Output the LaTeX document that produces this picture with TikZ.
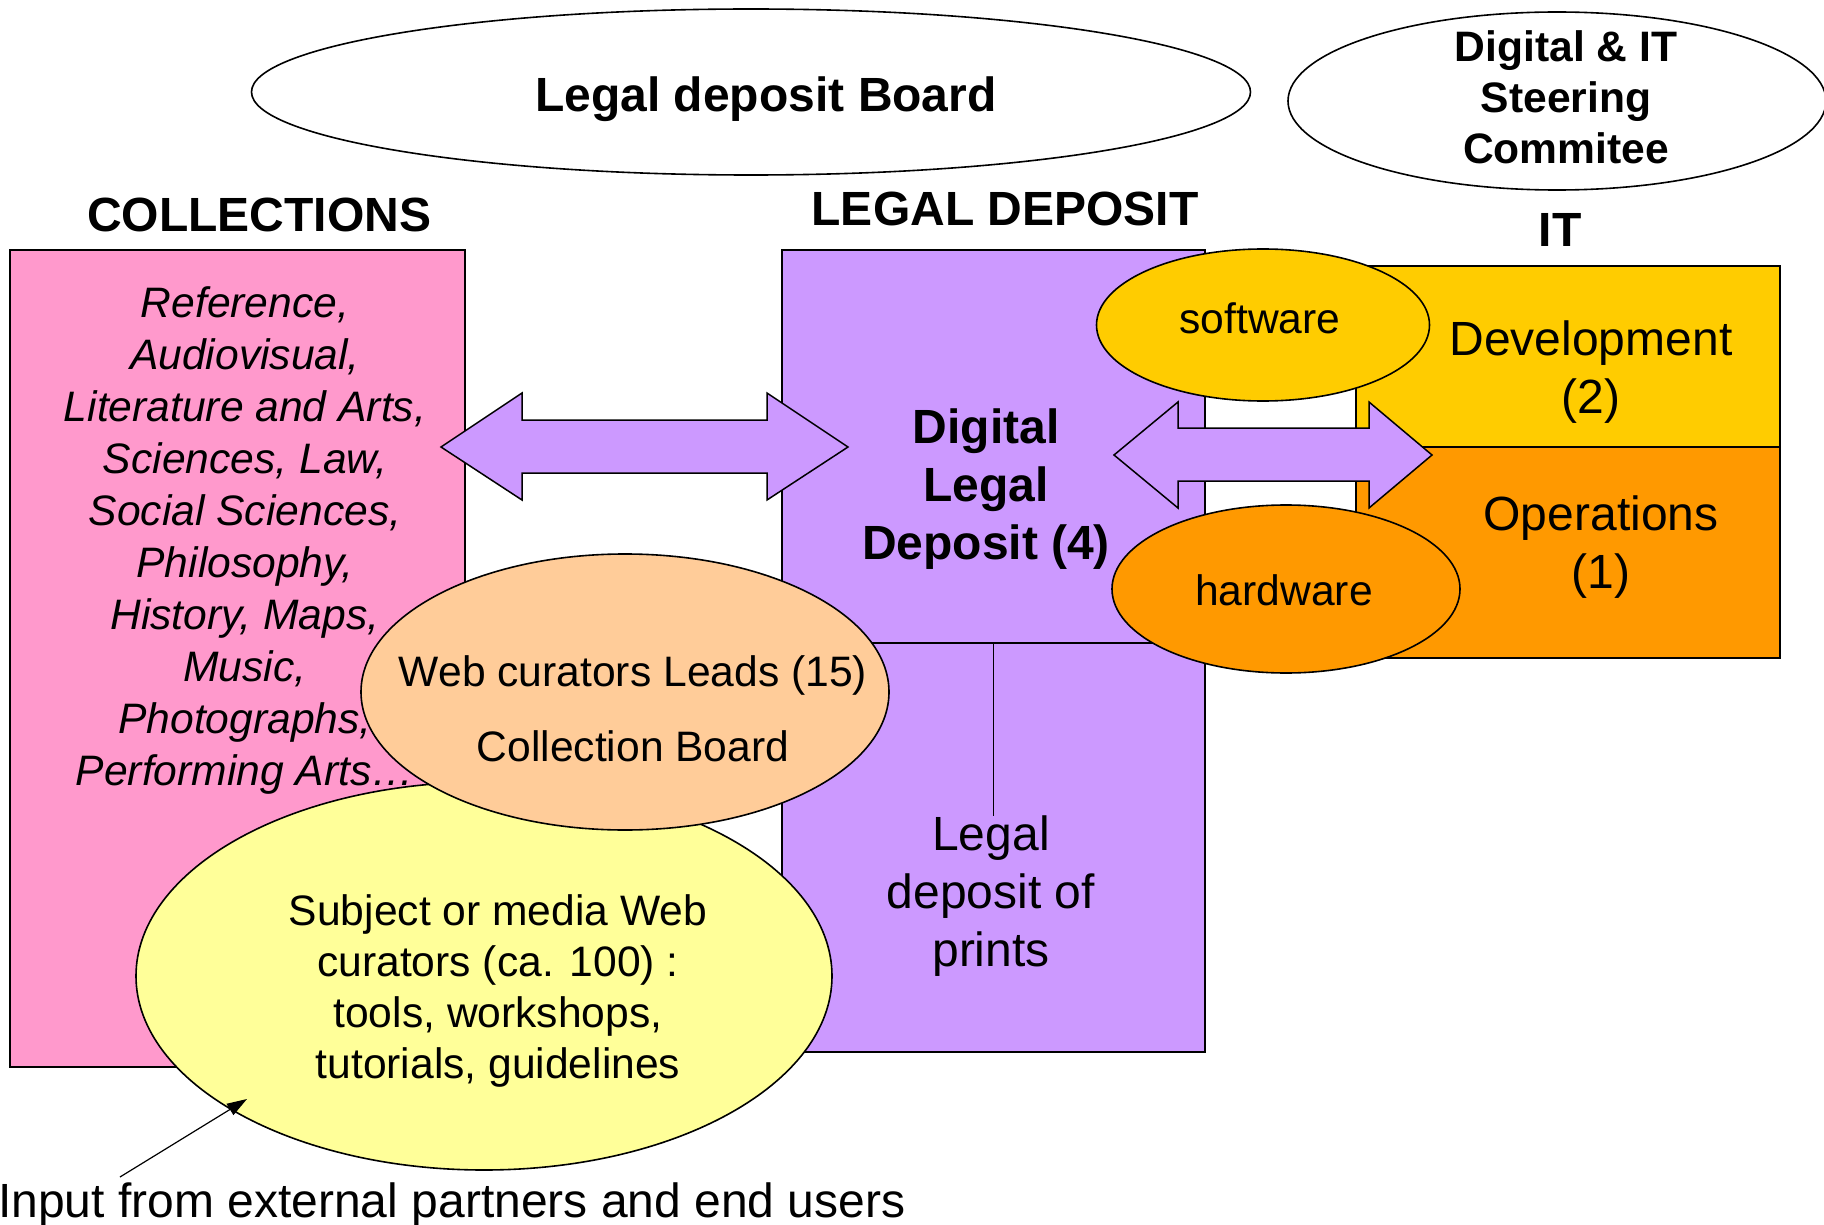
\documentclass[tikz,border=0pt]{standalone}
\usepackage{fontspec}
\setmainfont{Liberation Sans}
\usetikzlibrary{shapes.geometric,arrows.meta}

\definecolor{collpink}{HTML}{FF99CC}
\definecolor{ldpurple}{HTML}{CC99FF}
\definecolor{devyellow}{HTML}{FFCC00}
\definecolor{opsorange}{HTML}{FF9900}
\definecolor{leadpeach}{HTML}{FFCC99}
\definecolor{curyellow}{HTML}{FFFF99}

\tikzset{
  outline/.style={draw=black, line width=1.6pt, inner sep=0pt, outer sep=0pt},
  boxnode/.style={outline, rectangle},
  oval/.style={outline, ellipse},
  blockarrow/.style={draw=black, fill=ldpurple, line width=1.5pt, line join=miter},
  bigtxt/.style={align=center, inner sep=0pt, font=\fontsize{48}{57.6}\selectfont},
  midtxt/.style={align=center, inner sep=0pt, font=\fontsize{42.6}{51.2}\selectfont},
  headtxt/.style={bigtxt, font=\fontsize{48}{57.6}\selectfont\bfseries},
}

\begin{document}
\begin{tikzpicture}[x=1pt,y=-1pt]
\useasboundingbox (0,0) rectangle (1824,1225);

% governance ovals
\node[oval, minimum width=999pt, minimum height=166pt] (board) at (751,92) {};
\node[headtxt] (boardtxt) at (766,99) {Legal deposit Board};
\node[oval, minimum width=538pt, minimum height=178pt] (steer) at (1557,101) {};
\node[midtxt, font=\fontsize{42.6}{51.2}\selectfont\bfseries] (steertxt) at (1566,97) {Digital \& IT\\Steering\\Commitee};

% column headings
\node[headtxt] (hcoll) at (259,215) {COLLECTIONS};
\node[headtxt] (hld) at (1005,209) {LEGAL DEPOSIT};
\node[headtxt] (hit) at (1560,230) {IT};

% collections
\node[boxnode, fill=collpink, minimum width=455pt, minimum height=817pt] (coll) at (237.5,658.5) {};
\node[midtxt, font=\fontsize{42.6}{52}\selectfont\itshape] (colltxt) at (245,540)
  {Reference,\\Audiovisual,\\Literature and Arts,\\Sciences, Law,\\Social Sciences,\\Philosophy,\\History, Maps,\\Music,\\Photographs,\\Performing Arts\dots};

% legal deposit
\node[boxnode, fill=ldpurple, minimum width=423pt, minimum height=409pt] (prbox) at (993.5,847.5) {};
\node[boxnode, fill=ldpurple, minimum width=423pt, minimum height=393pt] (dld) at (993.5,446.5) {};
\node[headtxt, font=\fontsize{48}{57.6}\selectfont\bfseries] (dldtxt) at (986,489) {Digital\\Legal\\Deposit (4)};
\node[bigtxt] (prints) at (991,896) {Legal\\deposit of\\prints};
\draw[line width=1.6pt] (dld.south) -- (dld.south |- prints.north);

% exchange between collections and legal deposit
\filldraw[blockarrow] (441,447) -- (522,393) -- (522,420) -- (767,420) -- (767,393)
  -- (848,447) -- (767,500) -- (767,473) -- (522,473) -- (522,500) -- cycle;

% IT
\node[boxnode, fill=devyellow, minimum width=424pt, minimum height=181pt] (dev) at (1568,356.5) {};
\node[boxnode, fill=opsorange, minimum width=424pt, minimum height=211pt] (ops) at (1568,552.5) {};
\node[bigtxt] (devtxt) at (1591,372) {Development\\(2)};
\node[bigtxt] (opstxt) at (1601,547) {Operations\\(1)};

% exchange between legal deposit and IT
\filldraw[blockarrow] (1114,455) -- (1178,402) -- (1178,428) -- (1369,428) -- (1369,402)
  -- (1432,455) -- (1369,508) -- (1369,481) -- (1178,481) -- (1178,508) -- cycle;

\node[oval, fill=devyellow, minimum width=333pt, minimum height=152pt] (soft) at (1263,325) {};
\node[midtxt] (softtxt) at (1260,318) {software};
\node[oval, fill=opsorange, minimum width=348pt, minimum height=168pt] (hard) at (1286,589) {};
\node[midtxt] (hardtxt) at (1284,590) {hardware};

% web curators
\node[oval, fill=curyellow, minimum width=696pt, minimum height=388pt] (cur) at (484,976) {};
\node[midtxt] (curtxt) at (498,991) {Subject or media Web\\curators (ca. 100) :\\tools, workshops,\\tutorials, guidelines};
\node[oval, fill=leadpeach, minimum width=528pt, minimum height=276pt] (lead) at (625,692) {};
\node[midtxt] (leadtxt) at (633,709) {Web curators Leads (15)\\[24pt]Collection Board};

% external input
\node[bigtxt, anchor=west] (input) at (-2,1205) {Input from external partners and end users};
\coordinate (inputtail) at (120,1177);
\coordinate (inputtip) at (247,1099);
\draw[line width=1.2pt, -{Triangle[length=20pt,width=13pt]}] (inputtail) -- (inputtip);
\end{tikzpicture}
\end{document}
